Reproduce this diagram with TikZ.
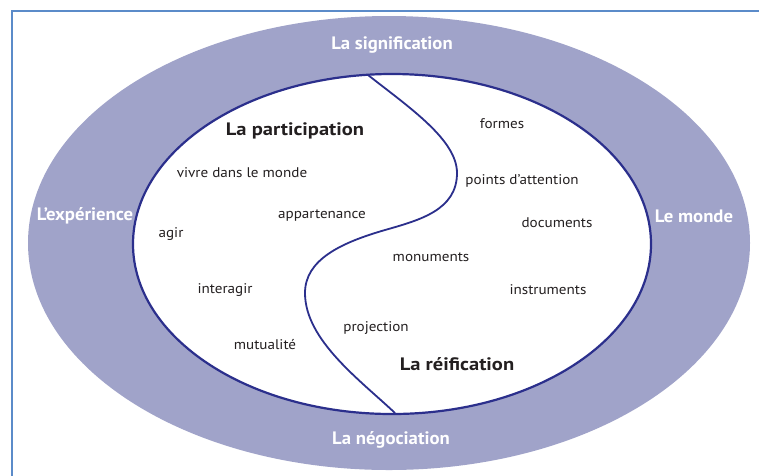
\documentclass[tikz,border=0pt]{standalone}
\usepackage{fontspec}
\setmainfont{PT Sans}[FakeStretch=1.08]
\newfontfamily\bandfont{PT Sans}[FakeStretch=1.04]
\newfontfamily\titlefont{PT Sans}[FakeStretch=1.14]
\definecolor{band}{HTML}{A0A3C9}
\definecolor{navy}{HTML}{2B2F8C}
\definecolor{framec}{HTML}{5B8BC9}
\definecolor{ink}{HTML}{231F20}
\begin{document}
\begin{tikzpicture}[x=1pt,y=-1pt,
  bandlabel/.style={text=white,font=\bandfont\bfseries\fontsize{18}{21}\selectfont,inner sep=0pt},
  title/.style={text=ink,font=\titlefont\bfseries\fontsize{18}{21}\selectfont,inner sep=0pt},
  item/.style={text=ink,font=\fontsize{14}{16}\selectfont,inner sep=0pt}]
\useasboundingbox (0,0) rectangle (759,475);
\fill[white] (0,0) rectangle (759,475);
\draw[framec,line width=1.5pt] (12,480) -- (12,11) -- (765,11);
\fill[band] (389,243) ellipse [x radius=361, y radius=227];
\draw[navy,line width=2.2pt,fill=white] (392,244) ellipse [x radius=259, y radius=170];
\coordinate (stop) at (368,75);
\coordinate (sbot) at (395,413);
\draw[navy,line width=1.8pt] (stop) .. controls (410,108) and (457,140) .. (457,173)
  .. controls (457,210) and (420,220) .. (385,230)
  .. controls (340,243) and (305,260) .. (305,293)
  .. controls (305,340) and (360,380) .. (sbot);
\node[bandlabel] (sig) at (392,45.5) {La signification};
\node[bandlabel] (exp) at (85,216) {L’expérience};
\node[bandlabel] (mon) at (694,216) {Le monde};
\node[bandlabel] (neg) at (391,439.5) {La négociation};
\node[title] (part) at (295,131) {La participation};
\node[title] (reif) at (457,364) {La réification};
\node[item] (vivre) at (242,173) {vivre dans le monde};
\node[item] (appar) at (322,216) {appartenance};
\node[item] (agir) at (171,234) {agir};
\node[item] (inter) at (225,290) {interagir};
\node[item] (mutu) at (265,345) {mutualité};
\node[item] (formes) at (502,124) {formes};
\node[item] (points) at (522,181) {points d’attention};
\node[item] (docs) at (557,223) {documents};
\node[item] (monu) at (431,257) {monuments};
\node[item] (instr) at (548,290) {instruments};
\node[item] (proj) at (376,328) {projection};
\end{tikzpicture}
\end{document}
